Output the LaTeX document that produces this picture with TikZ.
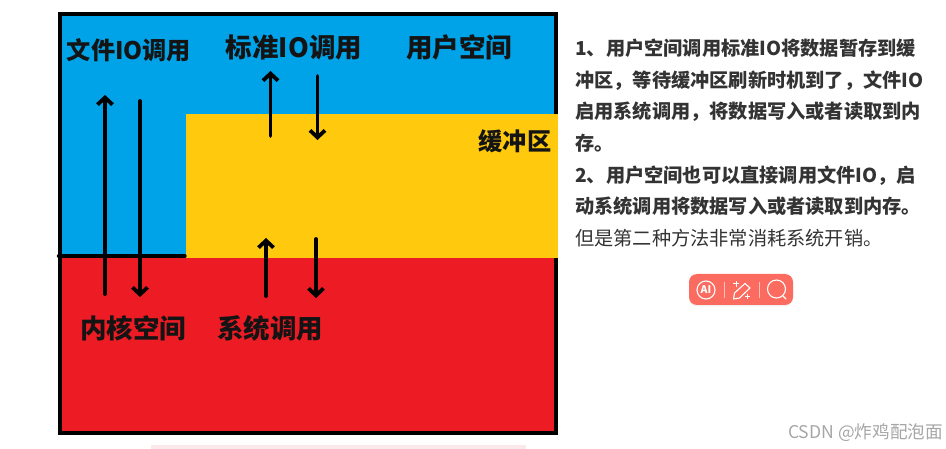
\documentclass[tikz,border=0pt]{standalone}
\usepackage{fontspec}
\setmainfont{Noto Sans CJK SC}
\usepackage{xcolor}
\usetikzlibrary{arrows.meta,positioning,calc,shadows}
\definecolor{userblue}{HTML}{00A2E8}
\definecolor{bufferyellow}{HTML}{FFC90E}
\definecolor{kernelred}{HTML}{ED1C24}
\definecolor{badgered}{HTML}{FC6B5F}
\definecolor{bodygray}{HTML}{333333}
\definecolor{stripepink}{HTML}{FBE8EB}

\begin{document}
\begin{tikzpicture}[x=1pt, y=-1pt]
    % Define styles
    \tikzstyle{region} = [rectangle, draw=none, inner sep=0pt, outer sep=0pt, anchor=north west]
    \tikzstyle{tag} = [inner sep=0pt, font=\bfseries\fontsize{26.5}{26.5}\selectfont, text=black!92]
    \tikzstyle{flow} = [-{Straight Barb[length=7pt, width=15pt]}, line width=3.8pt, line cap=round, black]
    \tikzstyle{icon} = [draw=white, line width=1.1pt, line cap=round, line join=round]
    \useasboundingbox (0,0) rectangle (946,449);

    % Frame and spaces
    \node[region, fill=black, minimum width=500pt, minimum height=423pt] (frame) at (58,12) {};
    \node[region, fill=userblue, minimum width=492pt, minimum height=244pt] (userspace) at (62,16) {};
    \node[region, fill=kernelred, minimum width=492pt, minimum height=173pt] (kernelspace) at (62,258) {};
    \node[region, fill=bufferyellow, minimum width=372pt, minimum height=144pt] (buffer) at (186,114) {};
    \node[region, fill=stripepink, minimum width=375pt, minimum height=4pt] (stripe) at (151,445) {};

    % Labels
    \node[tag, font=\bfseries\fontsize{24.2}{24.2}\selectfont] (filecall) at (129,50) {文件IO调用};
    \node[tag] (stdcall) at (294,48) {标准IO调用};
    \node[tag] (usertag) at (459,47) {用户空间};
    \node[tag, font=\bfseries\fontsize{24.2}{24.2}\selectfont] (buffertag) at (515,141) {缓冲区};
    \node[tag] (kerneltag) at (133,328) {内核空间};
    \node[tag] (syscall) at (270,328) {系统调用};

    % Divider
    \coordinate (divleft) at (58.5,256);
    \coordinate (divright) at (185,256);
    \draw[line width=3.4pt, line cap=round] (divleft) -- (divright);

    % Arrow ends
    \coordinate (fileupa) at (105,294);
    \coordinate (fileupb) at (105,95);
    \coordinate (filedowna) at (140,101);
    \coordinate (filedownb) at (140,297);
    \coordinate (stdupa) at (270.5,136);
    \coordinate (stdupb) at (270.5,71);
    \coordinate (stddowna) at (317.5,76);
    \coordinate (stddownb) at (317.5,140);
    \coordinate (sysupa) at (266,296);
    \coordinate (sysupb) at (266,238);
    \coordinate (sysdowna) at (316,239);
    \coordinate (sysdownb) at (316,298);

    % Arrows
    \draw[flow] (fileupa) -- (fileupb);
    \draw[flow] (filedowna) -- (filedownb);
    \draw[flow] (stdupa) -- (stdupb);
    \draw[flow] (stddowna) -- (stddownb);
    \draw[flow] (sysupa) -- (sysupb);
    \draw[flow] (sysdowna) -- (sysdownb);

    % Side text
    \node[inner sep=0pt, anchor=north west, align=left, text=bodygray, font=\fontsize{19.2}{31.7}\selectfont] (notes) at (575,38.5) {\bfseries 1、用户空间调用标准IO将数据暂存到缓\\
    \bfseries 冲区，等待缓冲区刷新时机到了，文件IO\\
    \bfseries 启用系统调用，将数据写入或者读取到内\\
    \bfseries 存。\\
    \bfseries 2、用户空间也可以直接调用文件IO，启\\
    \bfseries 动系统调用将数据写入或者读取到内存。\\
    但是第二种方法非常消耗系统开销。};

    % Badge
    \node[region, fill=badgered, rounded corners=8pt, minimum width=104pt, minimum height=31pt, drop shadow={shadow xshift=0pt, shadow yshift=-1.5pt, opacity=0.12}] (badge) at (689,274) {};
    \draw[icon] (706,290) circle (9);
    \node[inner sep=0pt, text=white, font=\bfseries\fontsize{10.5}{10.5}\selectfont] (aimark) at (706,290) {AI};
    \draw[white, opacity=0.6, line width=0.9pt] (724,282) -- (724,298);
    \draw[icon] (733.5,299) -- (734.5,293) -- (745,283.5) -- (750,288) -- (739.5,298) -- cycle;
    \draw[white, line width=1pt] (736,281) -- (736,287) (733,284) -- (739,284) (747,294) -- (747,299) (744.5,296.5) -- (749.5,296.5);
    \draw[white, opacity=0.6, line width=0.9pt] (759,282) -- (759,298);
    \draw[icon] (776.5,289) circle (9);
    \draw[icon] (783,296) -- (786,299);

    % Watermark
    \node[inner sep=0pt, anchor=east, text=black!35, font=\fontsize{17.6}{17.6}\selectfont] (watermark) at (943,433) {CSDN @炸鸡配泡面};
\end{tikzpicture}
\end{document}
